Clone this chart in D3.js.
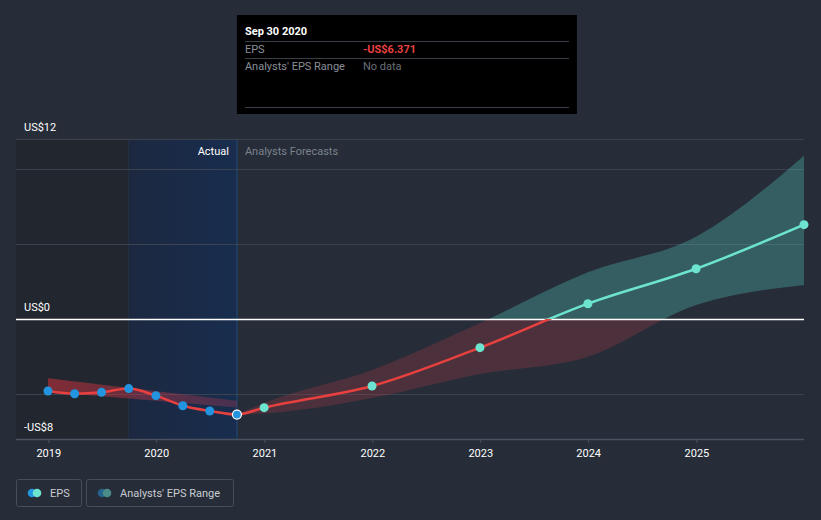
<!DOCTYPE html>
<html><head><meta charset="utf-8">
<script src="https://cdn.jsdelivr.net/npm/d3@7"></script>
<style>
html,body{margin:0;padding:0;background:#262d38;}
svg{display:block;font-family:Roboto,"Noto Sans",sans-serif;}
</style></head>
<body><svg id="c" width="821" height="520"></svg>
<script>
// ---- data ----
const actualDates = ["2018-12-31","2019-03-31","2019-06-30","2019-09-30","2019-12-31","2020-03-31","2020-06-30","2020-09-30"];
const actualEPS = [-4.80, -4.98, -4.89, -4.64, -5.11, -5.78, -6.13, -6.371];
const forecastDates = ["2020-12-31","2021-12-31","2022-12-31","2023-12-31","2024-12-31","2025-12-31"];
const forecastEPS = [-5.91, -4.47, -1.91, 1.02, 3.35, 6.29];
const rangeDates = ["2020-09-30","2020-12-31","2021-12-31","2022-12-31","2023-12-31","2024-12-31","2025-12-31"];
const rangeHigh = [-6.371, -5.60, -3.40, -0.27, 3.11, 5.49, 10.89];
const rangeLow  = [-6.371, -6.30, -5.27, -3.67, -2.51, 0.93, 2.27];
const histRangeDates = ["2018-12-31","2020-09-30"];
const histRangeHigh = [-3.95, -5.45];
const histRangeLow  = [-4.85, -5.90];
const yTickValues = [12, 0, -8];
const yTickLabels = ["US$12", "US$0", "-US$8"];
const yGridValues = [12, 10, 5, -5];
const xTickYears = [2019, 2020, 2021, 2022, 2023, 2024, 2025];
const highlightStart = "2019-09-30";
const lastActual = "2020-09-30";
const tooltipTitle = "Sep 30 2020";
const tooltipRows = [["EPS", "-US$6.371"], ["Analysts' EPS Range", "No data"]];
const legendItems = ["EPS", "Analysts' EPS Range"];

// ---- setup ----
const P = d3.timeParse("%Y-%m-%d");
const svg = d3.select("#c");
const pL = 16, pR = 804, pT = 139, pB = 439;
const x = d3.scaleTime().domain([P("2018-12-31"), P("2025-12-31")]).range([48, 804]);
const y = d3.scaleLinear().domain([-8, 12]).range([pB, pT]);

const defs = svg.append("defs");
const g1 = defs.append("linearGradient").attr("id","hl").attr("x1","0").attr("x2","1");
g1.append("stop").attr("offset","0").attr("stop-color","#1c2840");
g1.append("stop").attr("offset","1").attr("stop-color","#182d4e");
const g2 = defs.append("linearGradient").attr("id","hr").attr("x1","0").attr("x2","1");
g2.append("stop").attr("offset","0").attr("stop-color","#c0303a").attr("stop-opacity",0.6);
g2.append("stop").attr("offset","1").attr("stop-color","#a03a55").attr("stop-opacity",0.35);
defs.append("clipPath").attr("id","above").append("rect")
  .attr("x", pL).attr("y", 0).attr("width", pR-pL).attr("height", y(0));
defs.append("clipPath").attr("id","below").append("rect")
  .attr("x", pL).attr("y", y(0)).attr("width", pR-pL).attr("height", 520-y(0));

// shaded past regions
svg.append("rect").attr("x", pL).attr("y", pT).attr("width", x(P(highlightStart))-pL)
  .attr("height", pB-pT).attr("fill", "#22272f");
svg.append("rect").attr("x", x(P(highlightStart))).attr("y", pT)
  .attr("width", x(P(lastActual))-x(P(highlightStart))).attr("height", pB-pT).attr("fill", "url(#hl)");
svg.append("line").attr("x1", x(P(highlightStart))).attr("x2", x(P(highlightStart)))
  .attr("y1", pT).attr("y2", pB).attr("stroke", "#26303f").attr("stroke-width", 1);
svg.append("line").attr("x1", x(P(lastActual))).attr("x2", x(P(lastActual)))
  .attr("y1", pT).attr("y2", pB).attr("stroke", "#1f4a7e").attr("stroke-width", 1);

// grid
svg.selectAll(".grid").data(yGridValues).enter().append("line")
  .attr("x1", pL).attr("x2", pR).attr("y1", d=>y(d)+0.5).attr("y2", d=>y(d)+0.5)
  .attr("stroke", "#3b4250").attr("stroke-width", 1);

// y labels
svg.selectAll(".yl").data(yTickValues).enter().append("text")
  .attr("x", 24).attr("y", d=>y(d)-8).attr("fill", "#ffffff").attr("font-size", 11)
  .text((d,i)=>yTickLabels[i]);

// Actual / forecasts labels
svg.append("text").attr("x", x(P(lastActual))-8).attr("y", 155).attr("text-anchor","end")
  .attr("fill","#ffffff").attr("font-size", 11).text("Actual");
svg.append("text").attr("x", x(P(lastActual))+8).attr("y", 155)
  .attr("fill","#7c828c").attr("font-size", 11).text("Analysts Forecasts");

// historical range band
const histBand = histRangeDates.map((d,i)=>({d:P(d), hi:histRangeHigh[i], lo:histRangeLow[i]}));
svg.append("path").datum(histBand)
  .attr("d", d3.area().x(d=>x(d.d)).y0(d=>y(d.lo)).y1(d=>y(d.hi)))
  .attr("fill", "url(#hr)");

// forecast band
const band = rangeDates.map((d,i)=>({d:P(d), hi:rangeHigh[i], lo:rangeLow[i]}));
const areaGen = d3.area().curve(d3.curveMonotoneX).x(d=>x(d.d)).y0(d=>y(d.lo)).y1(d=>y(d.hi));
svg.append("path").datum(band).attr("d", areaGen).attr("clip-path","url(#above)")
  .attr("fill", "#58c8bc").attr("fill-opacity", 0.32);
svg.append("path").datum(band).attr("d", areaGen).attr("clip-path","url(#below)")
  .attr("fill", "#b03c48").attr("fill-opacity", 0.28);

// zero line
svg.append("line").attr("x1", pL).attr("x2", pR).attr("y1", y(0)+0.5).attr("y2", y(0)+0.5)
  .attr("stroke", "#ffffff").attr("stroke-width", 1.3);

// axis
const xAxis = d3.axisBottom(x)
  .tickValues(xTickYears.map(yr=>new Date(yr,0,1)))
  .tickFormat(d3.timeFormat("%Y")).tickSize(4).tickSizeOuter(0);
const ax = svg.append("g").attr("transform", `translate(0,${pB})`).call(xAxis);
ax.select(".domain").remove();
ax.selectAll(".tick line").attr("stroke", "#4a5160");
ax.selectAll(".tick text").attr("fill", "#ffffff").attr("font-size", 11).attr("dy", "1.0em")
  .attr("font-family", "Roboto, sans-serif");
svg.append("line").attr("x1", pL).attr("x2", pR).attr("y1", pB+0.5).attr("y2", pB+0.5)
  .attr("stroke", "#4a5160").attr("stroke-width", 1.5);

// EPS line
const allPts = actualDates.map((d,i)=>({d:P(d), v:actualEPS[i]}))
  .concat(forecastDates.map((d,i)=>({d:P(d), v:forecastEPS[i]})));
const lineGen = d3.line().curve(d3.curveMonotoneX).x(d=>x(d.d)).y(d=>y(d.v));
svg.append("path").datum(allPts).attr("d", lineGen).attr("clip-path","url(#below)")
  .attr("fill","none").attr("stroke","#e8403f").attr("stroke-width", 2.5);
svg.append("path").datum(allPts).attr("d", lineGen).attr("clip-path","url(#above)")
  .attr("fill","none").attr("stroke","#6ce4cf").attr("stroke-width", 2.5);

// points
svg.selectAll(".ap").data(actualDates).enter().append("circle")
  .attr("cx", d=>x(P(d))).attr("cy", (d,i)=>y(actualEPS[i])).attr("r", 4.5)
  .attr("fill", "#2394df")
  .attr("stroke", (d,i)=> i===actualDates.length-1 ? "#ffffff" : "none").attr("stroke-width", 1.2);
svg.selectAll(".fp").data(forecastDates).enter().append("circle")
  .attr("cx", d=>x(P(d))).attr("cy", (d,i)=>y(forecastEPS[i])).attr("r", 4.5)
  .attr("fill", "#6ce4cf");

// tooltip
const tx = x(P(lastActual)), ty = 15, tw = 340, th = 99;
const tip = svg.append("g");
tip.append("rect").attr("x", tx).attr("y", ty).attr("width", tw).attr("height", th).attr("fill", "#000000");
tip.append("text").attr("x", tx+8).attr("y", ty+20).attr("fill","#ffffff").attr("font-size", 11)
  .attr("font-weight","bold").text(tooltipTitle);
[ty+26, ty+43, ty+92].forEach(yy=>{
  tip.append("line").attr("x1", tx+8).attr("x2", tx+tw-8).attr("y1", yy+0.5).attr("y2", yy+0.5)
    .attr("stroke", "#3a3f47").attr("stroke-width", 1);
});
tooltipRows.forEach((r,i)=>{
  const yy = ty + 38 + i*17;
  tip.append("text").attr("x", tx+8).attr("y", yy).attr("fill","#8a8f98").attr("font-size", 11).text(r[0]);
  tip.append("text").attr("x", tx+126).attr("y", yy)
    .attr("fill", i===0 ? "#e8403f" : "#6a6f77").attr("font-size", 11)
    .attr("font-weight", i===0 ? "bold" : "normal").text(r[1]);
});

// legend
const lg = svg.append("g");
const boxes = [{x:16, w:65}, {x:86, w:147}];
legendItems.forEach((t,i)=>{
  const b = boxes[i];
  lg.append("rect").attr("x", b.x+0.5).attr("y", 479.5).attr("width", b.w).attr("height", 27)
    .attr("rx", 2).attr("fill", "none").attr("stroke", "#474e5a");
  const c1 = i===0 ? "#2394df" : "#25618a";
  const c2 = i===0 ? "#6ce4cf" : "#4a8c87";
  lg.append("circle").attr("cx", b.x+16).attr("cy", 493).attr("r", 4.3).attr("fill", c1);
  lg.append("circle").attr("cx", b.x+21).attr("cy", 493).attr("r", 4.3).attr("fill", c2);
  lg.append("text").attr("x", b.x+34).attr("y", 497).attr("fill", "#c9ccd1").attr("font-size", 11).text(t);
});
</script></body></html>
